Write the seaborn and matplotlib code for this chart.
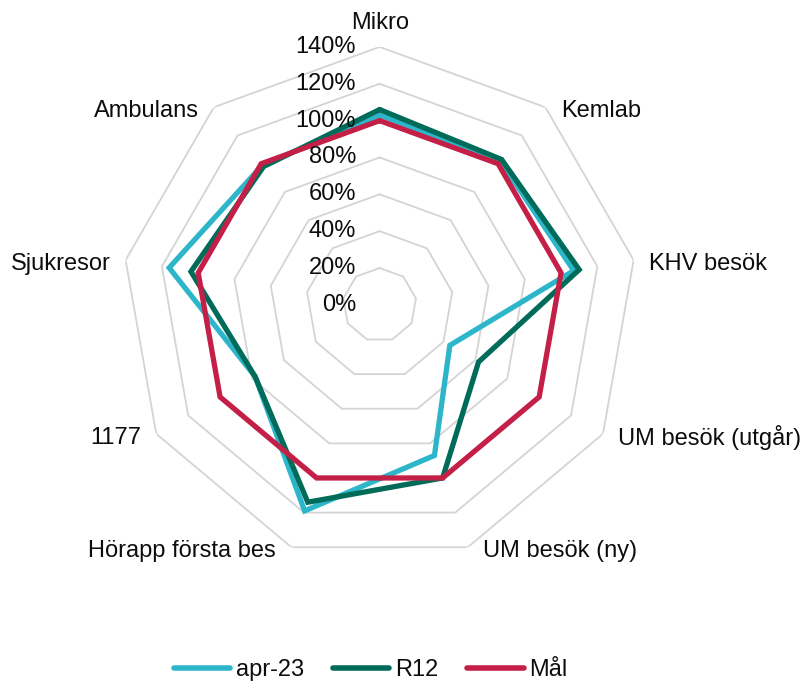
import numpy as np
import pandas as pd
import matplotlib
matplotlib.use("Agg")
import matplotlib.pyplot as plt
from matplotlib.lines import Line2D
import seaborn as sns

sns.set_style("white")
plt.rcParams["font.family"] = ["Liberation Sans", "DejaVu Sans"]
plt.rcParams["lines.solid_joinstyle"] = "miter"

categories = ["Mikro", "Kemlab", "KHV besök", "UM besök (utgår)", "UM besök (ny)",
              "Hörapp första bes", "1177", "Sjukresor", "Ambulans"]
apr23 = [103, 102, 107, 44, 87, 119, 78, 116, 99]
r12 = [106, 103, 110, 62, 100, 114, 78, 104, 98]
mal = [100, 100, 100, 100, 100, 100, 100, 100, 100]
series_names = ["apr-23", "R12", "Mål"]
colors = ["#2DB6C9", "#006B59", "#C41F47"]
levels = [20, 40, 60, 80, 100, 120, 140]

n = len(categories)
angles = np.linspace(0, 2 * np.pi, n, endpoint=False)
theta = np.append(angles, 2 * np.pi)

rows = []
for name, vals in zip(series_names, [apr23, r12, mal]):
    closed = list(vals) + [vals[0]]
    for t, v in zip(theta, closed):
        rows.append({"theta": t, "value": v, "serie": name})
df = pd.DataFrame(rows)

fig = plt.figure(figsize=(8.06, 6.82), dpi=100)
ax = fig.add_axes([0.151, 0.1745, 0.640, 0.757], projection="polar")
ax.set_theta_zero_location("N")
ax.set_theta_direction(-1)

# polygon grid, Excel style
for lv in levels:
    ax.plot(theta, [lv] * len(theta), color="#D4D4D4", lw=1.3, zorder=1)

sns.lineplot(data=df, x="theta", y="value", hue="serie", palette=colors,
             hue_order=series_names, lw=3.8, ax=ax, legend=False, zorder=3)

ax.set_ylim(0, 140)
ax.grid(False)
ax.spines["polar"].set_visible(False)
ax.set_xticks([])
ax.set_yticks([])
ax.set_xlabel("")
ax.set_ylabel("")

fs = 17
txt = "#0d0d0d"

# radial labels left of the Mikro axis
for lv in [0] + levels:
    ax.annotate(f"{lv}%", xy=(0, lv), xytext=(-17, 0), textcoords="offset points",
                ha="right", va="center", fontsize=fs, color=txt, zorder=5)

# category labels
for cat, a in zip(categories, angles):
    s = np.sin(a)
    if abs(s) < 0.1:
        ha, va, off = "center", "bottom", (0, 9)
    elif s > 0:
        ha, va, off = "left", "center", (11, -3)
    else:
        ha, va, off = "right", "center", (-11, -3)
    ax.annotate(cat, xy=(a, 140), xytext=off, textcoords="offset points",
                ha=ha, va=va, fontsize=fs, color=txt, annotation_clip=False)

handles = [Line2D([0], [0], color=col, lw=4, solid_capstyle="round") for col in colors]
fig.legend(handles, series_names, loc="lower center", bbox_to_anchor=(0.46, -0.03),
           ncol=3, frameon=False, fontsize=fs, handlelength=2.4, columnspacing=1.2,
           handletextpad=0.25, labelcolor=txt)

fig.savefig("out.png", dpi=100)
